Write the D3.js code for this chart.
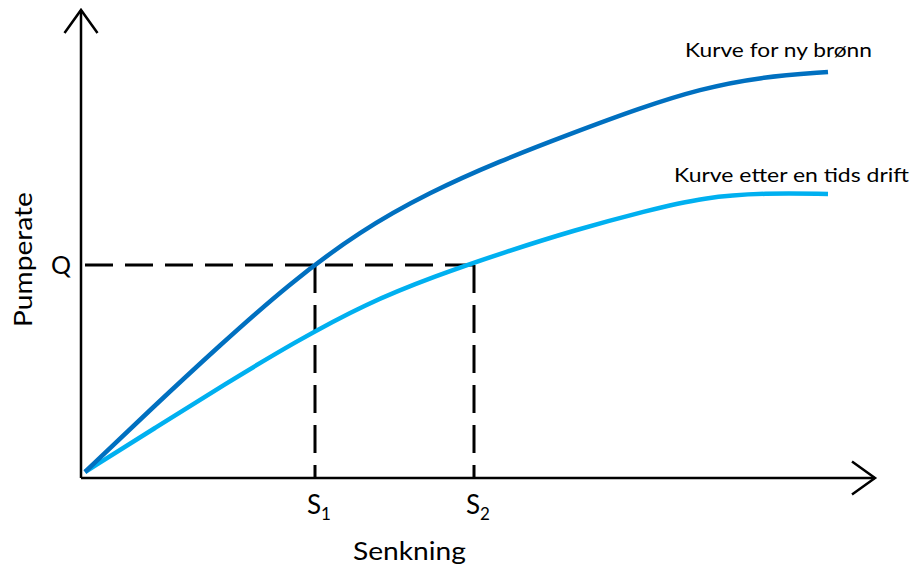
<!DOCTYPE html>
<html><head><meta charset="utf-8">
<script src="https://cdn.jsdelivr.net/npm/d3@7"></script>
<style>body{margin:0;background:#fff}svg{display:block}text{font-family:Lato,"Open Sans",sans-serif;fill:#000}</style>
</head><body>
<svg id="c" width="913" height="567"></svg>
<script>
// Data (x = senkning, y = pumperate), arbitrary units
const newWellX   = [4, 69, 139, 209, 279, 349, 419, 489, 559, 619, 679, 747];
const newWellY   = [6, 68, 133, 195, 247, 286, 317, 344, 370, 389, 401, 406];
const oldWellX   = [4, 74, 144, 214, 284, 354, 424, 494, 564, 624, 684, 747];
const oldWellY   = [6, 50, 94, 136, 174, 202, 226, 248, 267, 281, 285, 284];
const qLevel = 213;
const sValues = [234, 393];
const sLabels = ["1", "2"];
const seriesNames = ["Kurve for ny brønn", "Kurve etter en tids drift"];
const axisTitles = ["Senkning", "Pumperate"];

const svg = d3.select("#c");
const x = d3.scaleLinear().domain([0, 794]).range([81, 875]);
const y = d3.scaleLinear().domain([0, 468]).range([478, 10]);

// dashed guides
const dash = svg.append("g").attr("stroke", "#000").attr("stroke-width", 3)
  .attr("stroke-dasharray", "28,12").attr("fill", "none");
dash.append("line").attr("x1", x(4)).attr("x2", x(sValues[1])).attr("y1", y(qLevel)).attr("y2", y(qLevel));
sValues.forEach(s => {
  dash.append("line").attr("x1", x(s)).attr("x2", x(s)).attr("y1", y(qLevel)).attr("y2", y(0));
});

// axes
const ax = svg.append("g").attr("stroke", "#000").attr("stroke-width", 2.5).attr("fill", "none");
ax.append("line").attr("x1", x(0)).attr("x2", x(0)).attr("y1", y(0)).attr("y2", y(468));
ax.append("line").attr("x1", x(0)).attr("x2", x(794)).attr("y1", y(0)).attr("y2", y(0));
ax.append("path").attr("d", `M${x(0)-16.5},${y(468)+23}L${x(0)},${y(468)}L${x(0)+16.5},${y(468)+23}`);
ax.append("path").attr("d", `M${x(794)-23},${y(0)-16.5}L${x(794)},${y(0)}L${x(794)-23},${y(0)+16.5}`);

// curves
const line = d3.line().x(d => x(d[0])).y(d => y(d[1])).curve(d3.curveBasis);
svg.append("path").datum(d3.zip(oldWellX, oldWellY)).attr("d", line)
  .attr("fill", "none").attr("stroke", "#00B0F0").attr("stroke-width", 4.5);
svg.append("path").datum(d3.zip(newWellX, newWellY)).attr("d", line)
  .attr("fill", "none").attr("stroke", "#0070C0").attr("stroke-width", 4.5);

// labels
svg.append("text").attr("x", 685).attr("y", 57).attr("font-size", 20)
  .attr("textLength", 187).attr("lengthAdjust", "spacingAndGlyphs").text(seriesNames[0]);
svg.append("text").attr("x", 674).attr("y", 182).attr("font-size", 20)
  .attr("textLength", 235).attr("lengthAdjust", "spacingAndGlyphs").text(seriesNames[1]);
svg.append("text").attr("x", 353).attr("y", 560).attr("font-size", 25)
  .attr("textLength", 113).attr("lengthAdjust", "spacingAndGlyphs").text(axisTitles[0]);
svg.append("text").attr("transform", "translate(32,327) rotate(-90)").attr("font-size", 25)
  .attr("textLength", 135).attr("lengthAdjust", "spacingAndGlyphs").text(axisTitles[1]);
svg.append("text").attr("x", 51).attr("y", y(qLevel) + 9).attr("font-size", 25).text("Q");
sValues.forEach((s, i) => {
  const t = svg.append("text").attr("x", x(s) - 8).attr("y", 514).attr("font-size", 26);
  t.append("tspan").text("S");
  t.append("tspan").attr("font-size", 17).attr("dy", 6).text(sLabels[i]);
});
</script>
</body></html>
